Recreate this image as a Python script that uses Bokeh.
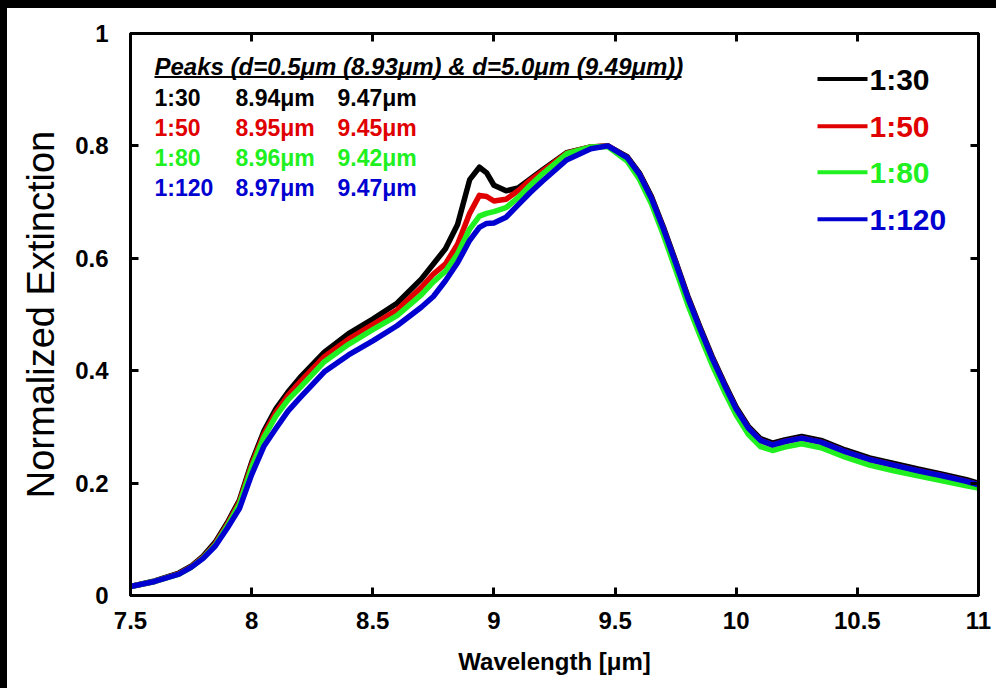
from bokeh.plotting import figure
from bokeh.models import (Label, BoxAnnotation, LinearAxis, FixedTicker,
                          NumeralTickFormatter, CustomJSTickFormatter, Div, Range1d)
from bokeh.layouts import column, row
from bokeh.embed import file_html
from bokeh.resources import INLINE

# ---------------- data ----------------
wavelength = [7.5, 7.6, 7.7, 7.75, 7.8, 7.85, 7.9, 7.95,
              8.0, 8.05, 8.1, 8.15, 8.2,
              8.3, 8.4, 8.5, 8.6, 8.7, 8.75, 8.8, 8.85, 8.9, 8.94, 8.97,
              9.0, 9.05, 9.1, 9.15, 9.2, 9.3, 9.4, 9.47, 9.55, 9.6, 9.65, 9.7, 9.75, 9.8, 9.85, 9.9, 9.95,
              10.0, 10.05, 10.1, 10.15, 10.2, 10.27, 10.35, 10.45, 10.55, 10.65, 10.75, 10.85, 10.95, 11.0]

ext_1_30 = [0.016, 0.026, 0.04, 0.052, 0.07, 0.095, 0.13, 0.17,
            0.237, 0.292, 0.332, 0.362, 0.388,
            0.433, 0.466, 0.492, 0.52, 0.563, 0.59, 0.617, 0.66, 0.74, 0.762, 0.752,
            0.73, 0.72, 0.725, 0.741, 0.757, 0.788, 0.798, 0.8, 0.781, 0.752, 0.71, 0.655, 0.595, 0.533, 0.478, 0.426, 0.379,
            0.335, 0.301, 0.279, 0.271, 0.277, 0.283, 0.276, 0.259, 0.245, 0.235, 0.225, 0.216, 0.206, 0.2]

ext_1_50 = [0.016, 0.025, 0.039, 0.051, 0.068, 0.092, 0.127, 0.167,
            0.233, 0.287, 0.326, 0.356, 0.38,
            0.425, 0.456, 0.482, 0.508, 0.548, 0.572, 0.59, 0.625, 0.68, 0.712, 0.71,
            0.702, 0.705, 0.72, 0.739, 0.755, 0.787, 0.798, 0.8, 0.779, 0.75, 0.707, 0.652, 0.592, 0.53, 0.475, 0.423, 0.376,
            0.332, 0.298, 0.276, 0.268, 0.274, 0.28, 0.273, 0.256, 0.242, 0.232, 0.222, 0.213, 0.203, 0.197]

ext_1_80 = [0.016, 0.025, 0.038, 0.05, 0.067, 0.09, 0.124, 0.163,
            0.228, 0.281, 0.319, 0.348, 0.37,
            0.416, 0.447, 0.473, 0.498, 0.535, 0.558, 0.577, 0.608, 0.652, 0.675, 0.68,
            0.683, 0.69, 0.708, 0.73, 0.75, 0.786, 0.798, 0.799, 0.773, 0.741, 0.697, 0.641, 0.58, 0.518, 0.463, 0.411, 0.364,
            0.321, 0.287, 0.265, 0.258, 0.264, 0.27, 0.263, 0.246, 0.232, 0.222, 0.213, 0.204, 0.195, 0.191]

ext_1_120 = [0.016, 0.025, 0.038, 0.05, 0.066, 0.088, 0.12, 0.155,
             0.215, 0.265, 0.297, 0.328, 0.352,
             0.398, 0.428, 0.453, 0.48, 0.513, 0.532, 0.56, 0.592, 0.632, 0.655, 0.662,
             0.663, 0.673, 0.695, 0.717, 0.737, 0.775, 0.795, 0.8, 0.779, 0.75, 0.707, 0.652, 0.592, 0.53, 0.475, 0.423, 0.376,
             0.332, 0.298, 0.276, 0.268, 0.274, 0.28, 0.273, 0.256, 0.242, 0.232, 0.222, 0.213, 0.203, 0.197]

series_labels = ["1:30", "1:50", "1:80", "1:120"]
series_colors = ["#000000", "#e00000", "#20f020", "#0000d0"]
peak_small = ["8.94\u03bcm", "8.95\u03bcm", "8.96\u03bcm", "8.97\u03bcm"]
peak_large = ["9.47\u03bcm", "9.45\u03bcm", "9.42\u03bcm", "9.47\u03bcm"]
header_text = "Peaks (d=0.5\u03bcm (8.93\u03bcm) & d=5.0\u03bcm (9.49\u03bcm))"

x_ticks = [7.5, 8, 8.5, 9, 9.5, 10, 10.5, 11]
y_ticks = [0, 0.2, 0.4, 0.6, 0.8, 1]

FONT = "Liberation Sans"

# ---------------- layout helpers (pixel positions inside figure) ----------------
X0, X1 = 7.5, 11.0
Y0, Y1 = 0.0, 1.0
FL, FR, FT, FB = 123, 971, 25.5, 586.5   # frame edges in figure pixels
OX, OY = 7, 8                             # figure offset in page


def px2x(px):
    return X0 + (px - OX - FL) / (FR - FL) * (X1 - X0)


def py2y(py):
    return Y0 + (FB - (py - OY)) / (FB - FT) * (Y1 - Y0)


p = figure(width=989, height=680, x_range=Range1d(X0, X1), y_range=Range1d(Y0, Y1),
           output_backend="svg", toolbar_location=None,
           min_border_left=FL, min_border_right=989 - FR,
           min_border_top=int(FT), min_border_bottom=int(680 - FB),
           x_axis_label="Wavelength [\u03bcm]", y_axis_label="Normalized Extinction")
p.xgrid.visible = False
p.ygrid.visible = False
p.outline_line_color = "black"
p.outline_line_width = 3
p.outline_line_alpha = 1
p.background_fill_color = "white"
p.border_fill_color = "white"

for ax, ticks in ((p.xaxis[0], x_ticks), (p.yaxis[0], y_ticks)):
    ax.ticker = FixedTicker(ticks=ticks)
    ax.formatter = NumeralTickFormatter(format="0.[0]")
    ax.major_tick_in = 8
    ax.major_tick_out = 0
    ax.major_tick_line_width = 3
    ax.minor_tick_line_color = None
    ax.axis_line_width = 3
    ax.major_label_text_font = FONT
    ax.major_label_text_font_style = "bold"
    ax.major_label_text_font_size = "24px"
    ax.major_label_text_color = "black"
    ax.axis_label_text_font = FONT
    ax.axis_label_text_color = "black"

p.xaxis[0].major_label_standoff = 16
p.xaxis[0].axis_label_text_font_style = "bold"
p.xaxis[0].axis_label_text_font_size = "24px"
p.xaxis[0].axis_label_standoff = 16
p.yaxis[0].major_label_standoff = 22
p.yaxis[0].axis_label_text_font_style = "normal"
p.yaxis[0].axis_label_text_font_size = "38px"
p.yaxis[0].axis_label_standoff = 10

for loc, ticks in (("above", x_ticks), ("right", y_ticks)):
    ax = LinearAxis(ticker=FixedTicker(ticks=ticks),
                    formatter=CustomJSTickFormatter(code="return ''"),
                    major_label_standoff=0, major_tick_in=8, major_tick_out=0,
                    major_tick_line_width=3, minor_tick_line_color=None, axis_line_width=3)
    p.add_layout(ax, loc)

# ---------------- curves ----------------
for ys, col in zip([ext_1_30, ext_1_50, ext_1_80, ext_1_120], series_colors):
    p.line(wavelength, ys, line_color=col, line_width=5.5, line_join="round")

# ---------------- legend (manual, coloured labels) ----------------
leg_rows_py = [79, 126, 172, 219]
for lab, col, py in zip(series_labels, series_colors, leg_rows_py):
    y = py2y(py)
    p.segment(x0=[px2x(817)], y0=[y], x1=[px2x(867)], y1=[y], line_color=col, line_width=4)
    p.add_layout(Label(x=px2x(869), y=y, text=lab, text_color=col, text_font=FONT,
                       text_font_style="bold", text_font_size="30px",
                       text_align="left", text_baseline="middle"))

# ---------------- peaks table ----------------
p.add_layout(Label(x=px2x(154), y=py2y(66), text=header_text, text_color="black",
                   text_font=FONT, text_font_style="bold italic", text_font_size="24px",
                   text_align="left", text_baseline="middle"))
p.add_layout(BoxAnnotation(left=px2x(154), right=px2x(681), bottom=py2y(78), top=py2y(76),
                           fill_color="black", fill_alpha=1, line_color=None))
table_rows_py = [98, 128, 158, 188]
for lab, a, b, col, py in zip(series_labels, peak_small, peak_large, series_colors, table_rows_py):
    for txt, px in ((lab, 154), (a, 235), (b, 337)):
        p.add_layout(Label(x=px2x(px), y=py2y(py), text=txt, text_color=col, text_font=FONT,
                           text_font_style="bold", text_font_size="23px",
                           text_align="left", text_baseline="middle"))

# ---------------- page with black top/left strips ----------------
top_bar = Div(width=996, height=OY, styles={"background-color": "black"}, margin=0)
left_bar = Div(width=OX, height=680, styles={"background-color": "black"}, margin=0)
layout = column(top_bar, row(left_bar, p, spacing=0), spacing=0)

open("out.html", "w").write(file_html(layout, INLINE))
